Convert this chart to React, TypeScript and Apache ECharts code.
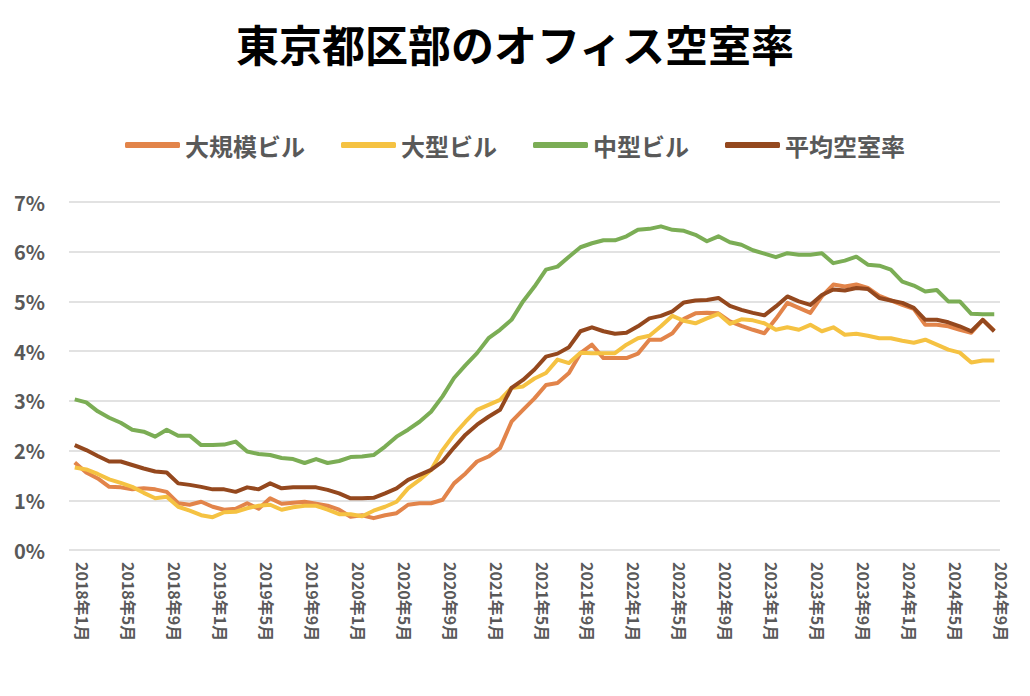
import React, { useEffect, useRef } from "react";
import * as echarts from "echarts";

const years = [2018, 2019, 2020, 2021, 2022, 2023, 2024];
const months: string[] = [];
for (const y of years) {
  for (let m = 1; m <= 12; m++) {
    if (y === 2024 && m > 9) break;
    months.push(`${y}年${m}月`);
  }
}

const seriesNames = ["大規模ビル", "大型ビル", "中型ビル", "平均空室率"];
const seriesColors = ["#E2844A", "#F5C242", "#7BAD55", "#94481E"];

const largeScale = [
  1.76, 1.56, 1.44, 1.27, 1.26, 1.22, 1.24, 1.22, 1.17, 0.94, 0.91, 0.97,
  0.87, 0.81, 0.83, 0.94, 0.83, 1.04, 0.93, 0.95, 0.97, 0.93, 0.89, 0.81,
  0.67, 0.70, 0.64, 0.70, 0.74, 0.91, 0.94, 0.94, 1.01, 1.34, 1.54, 1.78,
  1.88, 2.05, 2.58, 2.82, 3.05, 3.32, 3.36, 3.56, 3.96, 4.13, 3.86, 3.86,
  3.86, 3.95, 4.23, 4.23, 4.36, 4.65, 4.76, 4.77, 4.76, 4.60, 4.51, 4.43,
  4.36, 4.65, 4.97, 4.87, 4.77, 5.10, 5.34, 5.30, 5.34, 5.27, 5.11, 5.02,
  4.93, 4.85, 4.53, 4.53, 4.50, 4.43, 4.37, 4.63, 4.41,
];

const large = [
  1.66, 1.62, 1.53, 1.42, 1.35, 1.27, 1.15, 1.04, 1.07, 0.87, 0.79, 0.70,
  0.66, 0.76, 0.77, 0.84, 0.89, 0.91, 0.81, 0.86, 0.89, 0.89, 0.81, 0.72,
  0.72, 0.68, 0.79, 0.87, 0.97, 1.24, 1.41, 1.61, 2.01, 2.32, 2.58, 2.82,
  2.92, 3.02, 3.26, 3.29, 3.45, 3.56, 3.83, 3.76, 3.97, 3.96, 3.96, 3.96,
  4.13, 4.26, 4.31, 4.50, 4.71, 4.61, 4.56, 4.66, 4.75, 4.55, 4.64, 4.62,
  4.56, 4.43, 4.48, 4.43, 4.53, 4.40, 4.48, 4.33, 4.35, 4.31, 4.26, 4.26,
  4.21, 4.17, 4.23, 4.13, 4.03, 3.97, 3.77, 3.81, 3.81,
];

const medium = [
  3.03, 2.97, 2.79, 2.66, 2.56, 2.42, 2.38, 2.28, 2.42, 2.30, 2.30, 2.11,
  2.11, 2.12, 2.18, 1.98, 1.93, 1.91, 1.85, 1.83, 1.75, 1.83, 1.75, 1.79,
  1.87, 1.88, 1.91, 2.08, 2.28, 2.42, 2.58, 2.78, 3.09, 3.46, 3.72, 3.96,
  4.26, 4.43, 4.63, 5.00, 5.30, 5.64, 5.70, 5.90, 6.09, 6.17, 6.23, 6.23,
  6.31, 6.44, 6.46, 6.51, 6.44, 6.42, 6.34, 6.21, 6.31, 6.19, 6.14, 6.03,
  5.96, 5.89, 5.97, 5.94, 5.94, 5.97, 5.77, 5.82, 5.90, 5.74, 5.72, 5.64,
  5.40, 5.32, 5.20, 5.23, 5.00, 5.00, 4.75, 4.74, 4.74,
];

const average = [
  2.11, 2.01, 1.89, 1.78, 1.78, 1.71, 1.64, 1.58, 1.56, 1.34, 1.31, 1.27,
  1.22, 1.22, 1.17, 1.26, 1.22, 1.34, 1.24, 1.26, 1.26, 1.26, 1.21, 1.14,
  1.04, 1.04, 1.05, 1.14, 1.24, 1.41, 1.51, 1.61, 1.78, 2.06, 2.32, 2.52,
  2.68, 2.82, 3.26, 3.42, 3.63, 3.89, 3.95, 4.08, 4.40, 4.48, 4.40, 4.35,
  4.37, 4.50, 4.66, 4.71, 4.80, 4.98, 5.02, 5.03, 5.07, 4.91, 4.83, 4.77,
  4.72, 4.90, 5.10, 5.00, 4.93, 5.13, 5.24, 5.22, 5.27, 5.25, 5.07, 5.02,
  4.97, 4.87, 4.63, 4.63, 4.58, 4.50, 4.40, 4.63, 4.40,
];

const yTicks = [0, 1, 2, 3, 4, 5, 6, 7];

const FONT = "'Noto Sans CJK JP', 'Noto Sans', sans-serif";

export default function App() {
  const ref = useRef<HTMLDivElement>(null);
  useEffect(() => {
    document.body.style.margin = "0";
    if (!ref.current) return;
    const chart = echarts.init(ref.current, undefined, { renderer: "svg" });
    const data = [largeScale, large, medium, average];
    chart.setOption({
      animation: false,
      backgroundColor: "#ffffff",
      title: {
        text: "東京都区部のオフィス空室率",
        left: "center",
        top: 16,
        textStyle: {
          fontFamily: FONT,
          fontSize: 43,
          fontWeight: "bold",
          color: "#000000",
        },
      },
      legend: {
        top: 128,
        left: "center",
        itemWidth: 55,
        itemHeight: 6,
        itemGap: 36,
        icon: "roundRect",
        data: seriesNames,
        textStyle: {
          fontFamily: FONT,
          fontSize: 24,
          fontWeight: "bold",
          color: "#595959",
        },
      },
      grid: {
        left: 69,
        right: 30,
        top: 202,
        bottom: 146,
        containLabel: false,
      },
      xAxis: {
        type: "category",
        data: months,
        boundaryGap: true,
        axisLine: { show: false },
        axisTick: { show: false },
        axisLabel: {
          interval: 3,
          rotate: -90,
          margin: 12,
          verticalAlign: "bottom",
          fontFamily: FONT,
          fontSize: 16,
          fontWeight: "bold",
          color: "#595959",
        },
      },
      yAxis: {
        type: "value",
        min: yTicks[0],
        max: yTicks[yTicks.length - 1],
        interval: 1,
        axisLine: { show: false },
        axisTick: { show: false },
        splitLine: { lineStyle: { color: "#d9d9d9", width: 1.5 } },
        axisLabel: {
          formatter: "{value}%",
          margin: 24,
          fontFamily: FONT,
          fontSize: 20,
          fontWeight: "bold",
          color: "#595959",
        },
      },
      series: seriesNames.map((name, idx) => ({
        name,
        type: "line",
        data: data[idx],
        showSymbol: false,
        symbol: "none",
        lineStyle: { width: 4, color: seriesColors[idx], join: "round" },
        itemStyle: { color: seriesColors[idx] },
        z: 2 + idx,
      })),
    });
    return () => chart.dispose();
  }, []);
  return <div ref={ref} style={{ width: 1030, height: 696 }} />;
}
